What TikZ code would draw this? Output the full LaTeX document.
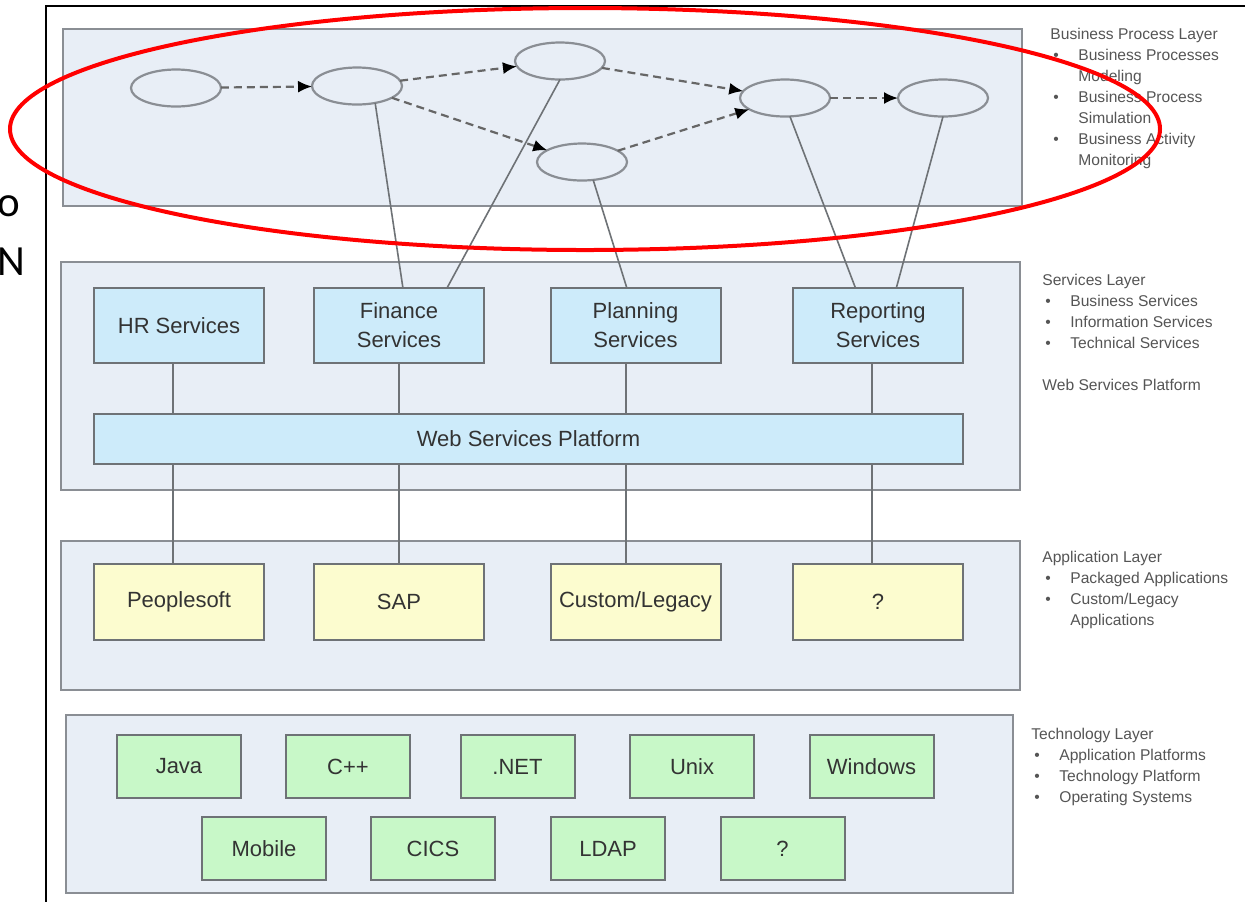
\documentclass[tikz,border=0pt]{standalone}
\usepackage{fontspec}
\setmainfont{Liberation Sans}
\newfontfamily\callig{Carlito}
\usetikzlibrary{shapes,arrows.meta}

\definecolor{panelfill}{HTML}{E8EEF6}
\definecolor{panelline}{HTML}{8A8E94}
\definecolor{svcfill}{HTML}{CDEBFA}
\definecolor{appfill}{HTML}{FCFCCF}
\definecolor{techfill}{HTML}{C8F8C8}
\definecolor{boxline}{HTML}{6E7276}
\definecolor{txtgray}{HTML}{333333}
\definecolor{notegray}{HTML}{555555}

\newcommand{\bitem}[1]{\makebox[14pt][l]{\hspace{1.5pt}\textbullet}#1}
\newcommand{\bcont}[1]{\hspace*{14pt}#1}

\begin{document}
\begin{tikzpicture}[x=0.5pt, y=-0.5pt,
  layer/.style = {draw=panelline, line width=1.1pt, fill=panelfill},
  box/.style = {shape=rectangle, draw=boxline, line width=1pt,
    inner sep=0pt, outer sep=0pt, align=center, text=txtgray,
    font=\fontsize{11}{14.5}\selectfont},
  svc/.style = {box, fill=svcfill, minimum width=85pt, minimum height=37.5pt},
  app/.style = {box, fill=appfill, minimum width=85pt, minimum height=38pt},
  tech/.style = {box, fill=techfill, minimum width=62pt, minimum height=31.5pt},
  proc/.style = {shape=ellipse, draw=panelline, line width=1.1pt,
    fill=panelfill, minimum width=45pt, minimum height=18.5pt,
    inner sep=0pt, outer sep=0pt},
  flow/.style = {draw=black!60, line width=1.1pt, dash pattern=on 4pt off 2.5pt,
    -{Latex[black, length=7pt, width=6pt]}},
  link/.style = {draw=boxline, line width=0.8pt},
  note/.style = {anchor=north west, align=left, text=notegray, inner sep=0pt,
    font=\fontsize{7.8}{10.5}\selectfont}]

  \useasboundingbox (0,0) rectangle (1245,902);
  \fill[white] (0,0) rectangle (1245,902);
  \draw[black, line width=1pt] (1245,6) -- (46,6) -- (46,902);

  \draw[layer] (63,29) rectangle (1022,206);
  \draw[layer] (61,262) rectangle (1020,490);
  \draw[layer] (61,541) rectangle (1020,690);
  \draw[layer] (66,715) rectangle (1013,893);

  \node[proc] (e1) at (176,88) {};
  \node[proc] (e2) at (357,86) {};
  \node[proc] (e3) at (560,61) {};
  \node[proc] (e4) at (582,162) {};
  \node[proc] (e5) at (785,98) {};
  \node[proc] (e6) at (943,98) {};

  \draw[flow] (e1) -- (e2);
  \draw[flow] (e2) -- (e3);
  \draw[flow] (e2) -- (e4);
  \draw[flow] (e3) -- (e5);
  \draw[flow] (e4) -- (e5);
  \draw[flow] (e5) -- (e6);

  \node[svc] (hr)  at (179,325.5) {HR Services};
  \node[svc] (fin) at (399,325.5) {Finance\\Services};
  \node[svc] (pln) at (635.5,325.5) {Planning\\Services};
  \node[svc] (rep) at (878,325.5) {Reporting\\Services};
  \node[box, fill=svcfill, minimum width=434.5pt, minimum height=25pt]
    (wsp) at (528.5,439) {Web Services Platform};

  \node[app] (peo) at (179,602) {Peoplesoft};
  \node[app] (sap) at (399,602) {SAP};
  \node[app] (cus) at (635.5,602) {Custom/Legacy};
  \node[app] (unk) at (878,602) {?};

  \node[tech] (java) at (179,766.5) {Java};
  \node[tech] (cpp)  at (348,766.5) {C++};
  \node[tech, minimum width=57pt] (net) at (517.5,766.5) {.NET};
  \node[tech] (unix) at (692,766.5) {Unix};
  \node[tech] (win)  at (871.5,766.5) {Windows};
  \node[tech] (mob)  at (264,848.5) {Mobile};
  \node[tech] (cics) at (433,848.5) {CICS};
  \node[tech, minimum width=57pt] (ldap) at (608,848.5) {LDAP};
  \node[tech] (tq)   at (782.5,848.5) {?};

  \coordinate (c1) at (173,0);
  \coordinate (c2) at (399,0);
  \coordinate (c3) at (626,0);
  \coordinate (c4) at (872,0);
  \draw[link] (c1 |- hr.south) -- (c1 |- wsp.north);
  \draw[link] (c2 |- fin.south) -- (c2 |- wsp.north);
  \draw[link] (c3 |- pln.south) -- (c3 |- wsp.north);
  \draw[link] (c4 |- rep.south) -- (c4 |- wsp.north);
  \draw[link] (c1 |- wsp.south) -- (c1 |- peo.north);
  \draw[link] (c2 |- wsp.south) -- (c2 |- sap.north);
  \draw[link] (c3 |- wsp.south) -- (c3 |- cus.north);
  \draw[link] (c4 |- wsp.south) -- (c4 |- unk.north);

  \draw[link] (fin.84) -- (e2.-43);
  \draw[link] (fin.38) -- (e3.south);
  \draw[link] (pln.103) -- (e4.-58);
  \draw[link] (rep.121) -- (e5.-75);
  \draw[link] (rep.64) -- (e6.south);

  \node[note] (bpl) at (1050,28) {Business Process Layer\\
    \bitem{Business Processes}\\ \bcont{Modeling}\\
    \bitem{Business Process}\\ \bcont{Simulation}\\
    \bitem{Business Activity}\\ \bcont{Monitoring}};
  \node[note] (sl) at (1042,274) {Services Layer\\
    \bitem{Business Services}\\
    \bitem{Information Services}\\
    \bitem{Technical Services}\\[10.5pt]
    Web Services Platform};
  \node[note] (al) at (1042,551) {Application Layer\\
    \bitem{Packaged Applications}\\
    \bitem{Custom/Legacy}\\ \bcont{Applications}};
  \node[note] (tl) at (1031,728) {Technology Layer\\
    \bitem{Application Platforms}\\
    \bitem{Technology Platform}\\
    \bitem{Operating Systems}};

  \node[font=\callig\fontsize{21.5}{24}\selectfont, anchor=base west, inner sep=0pt]
    (lo) at (-3,216) {o};
  \node[font=\callig\fontsize{21.5}{24}\selectfont, anchor=base west, inner sep=0pt]
    (ln) at (-3,275) {N};

  \draw[red, line width=2pt] (585,129) ellipse [x radius=287.5pt, y radius=60.5pt];
\end{tikzpicture}
\end{document}
